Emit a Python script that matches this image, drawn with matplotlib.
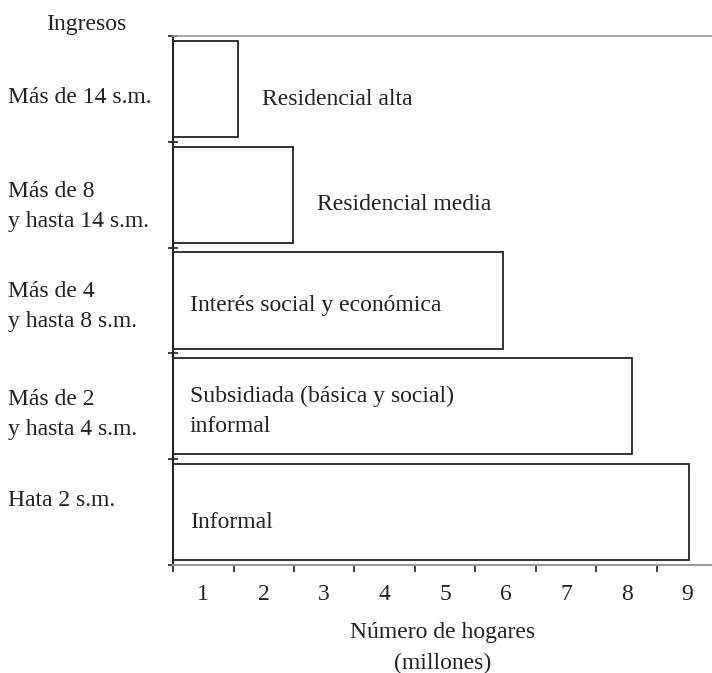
import matplotlib.pyplot as plt

# ---------------------------
# Datos
# ---------------------------
ingresos = ["Hata 2 s.m.",
            "Más de 2\ny hasta 4 s.m.",
            "Más de 4\ny hasta 8 s.m.",
            "Más de 8\ny hasta 14 s.m.",
            "Más de 14 s.m."]
hogares = [8.53, 7.59, 5.45, 1.98, 1.07]   # millones
tipo_vivienda = ["Informal",
                 "Subsidiada (básica y social)\ninformal",
                 "Interés social y económica",
                 "Residencial media",
                 "Residencial alta"]
etiqueta_dentro = [True, True, True, False, False]
x_ticks_labels = ["1", "2", "3", "4", "5", "6", "7", "8", "9"]

# desplazamientos verticales de los textos (solo estilo)
dy_ingresos = [0.11, -0.075, -0.055, -0.11, -0.085]
dy_tipo = [-0.1, -0.05, -0.05, -0.095, -0.1]

plt.rcParams["font.family"] = ["Liberation Serif", "DejaVu Serif"]
FS = 17
LS = 1.55
TXT = "#222222"

fig = plt.figure(figsize=(7.12, 6.73), dpi=100)
ax = fig.add_axes([0.243, 0.1605, 0.757, 0.786])

ypos = list(range(len(ingresos)))
ax.barh(ypos, hogares, height=0.91, left=0, color="white",
        edgecolor="#222222", linewidth=1.3)

ax.set_xlim(0, 8.91)
ax.set_ylim(-0.5, len(ingresos) - 0.5)

# etiquetas de tipo de vivienda
for y, v, t, dentro, dy in zip(ypos, hogares, tipo_vivienda, etiqueta_dentro, dy_tipo):
    x = 0.28 if dentro else v + 0.4
    ax.text(x, y + dy, t, ha="left", va="center", fontsize=FS, color=TXT,
            linespacing=LS)

# etiquetas de ingresos (a la izquierda)
for y, t, dy in zip(ypos, ingresos, dy_ingresos):
    ax.text(-0.306, y + dy, t, transform=ax.get_yaxis_transform(),
            ha="left", va="center", fontsize=FS, color=TXT, linespacing=LS)
ax.text(-0.161, 1.021, "Ingresos", transform=ax.transAxes, ha="center",
        va="center", fontsize=FS, color=TXT)

# ejes
ax.set_yticks([y - 0.5 for y in ypos] + [len(ingresos) - 0.5])
ax.set_yticklabels([])
ax.tick_params(axis="y", direction="inout", length=7, width=1.2, color="#222222")

ax.set_xticks(range(0, 9))
ax.set_xticklabels([])
ax.set_xticks([k - 0.5 for k in range(1, 10)], minor=True)
ax.set_xticklabels(x_ticks_labels, minor=True, fontsize=FS, color=TXT)
ax.tick_params(axis="x", which="major", direction="out", length=5, width=1.2,
               color="#222222")
ax.tick_params(axis="x", which="minor", length=0, pad=14)

ax.spines["right"].set_visible(False)
ax.spines["left"].set_color("#222222")
ax.spines["left"].set_linewidth(1.5)
ax.spines["top"].set_color("#999999")
ax.spines["top"].set_linewidth(1.2)
ax.spines["bottom"].set_color("#999999")
ax.spines["bottom"].set_linewidth(1.5)

ax.set_xlabel("Número de hogares\n(millones)", fontsize=FS, color=TXT,
              labelpad=12, linespacing=1.6)

fig.savefig("out.png", dpi=100)
